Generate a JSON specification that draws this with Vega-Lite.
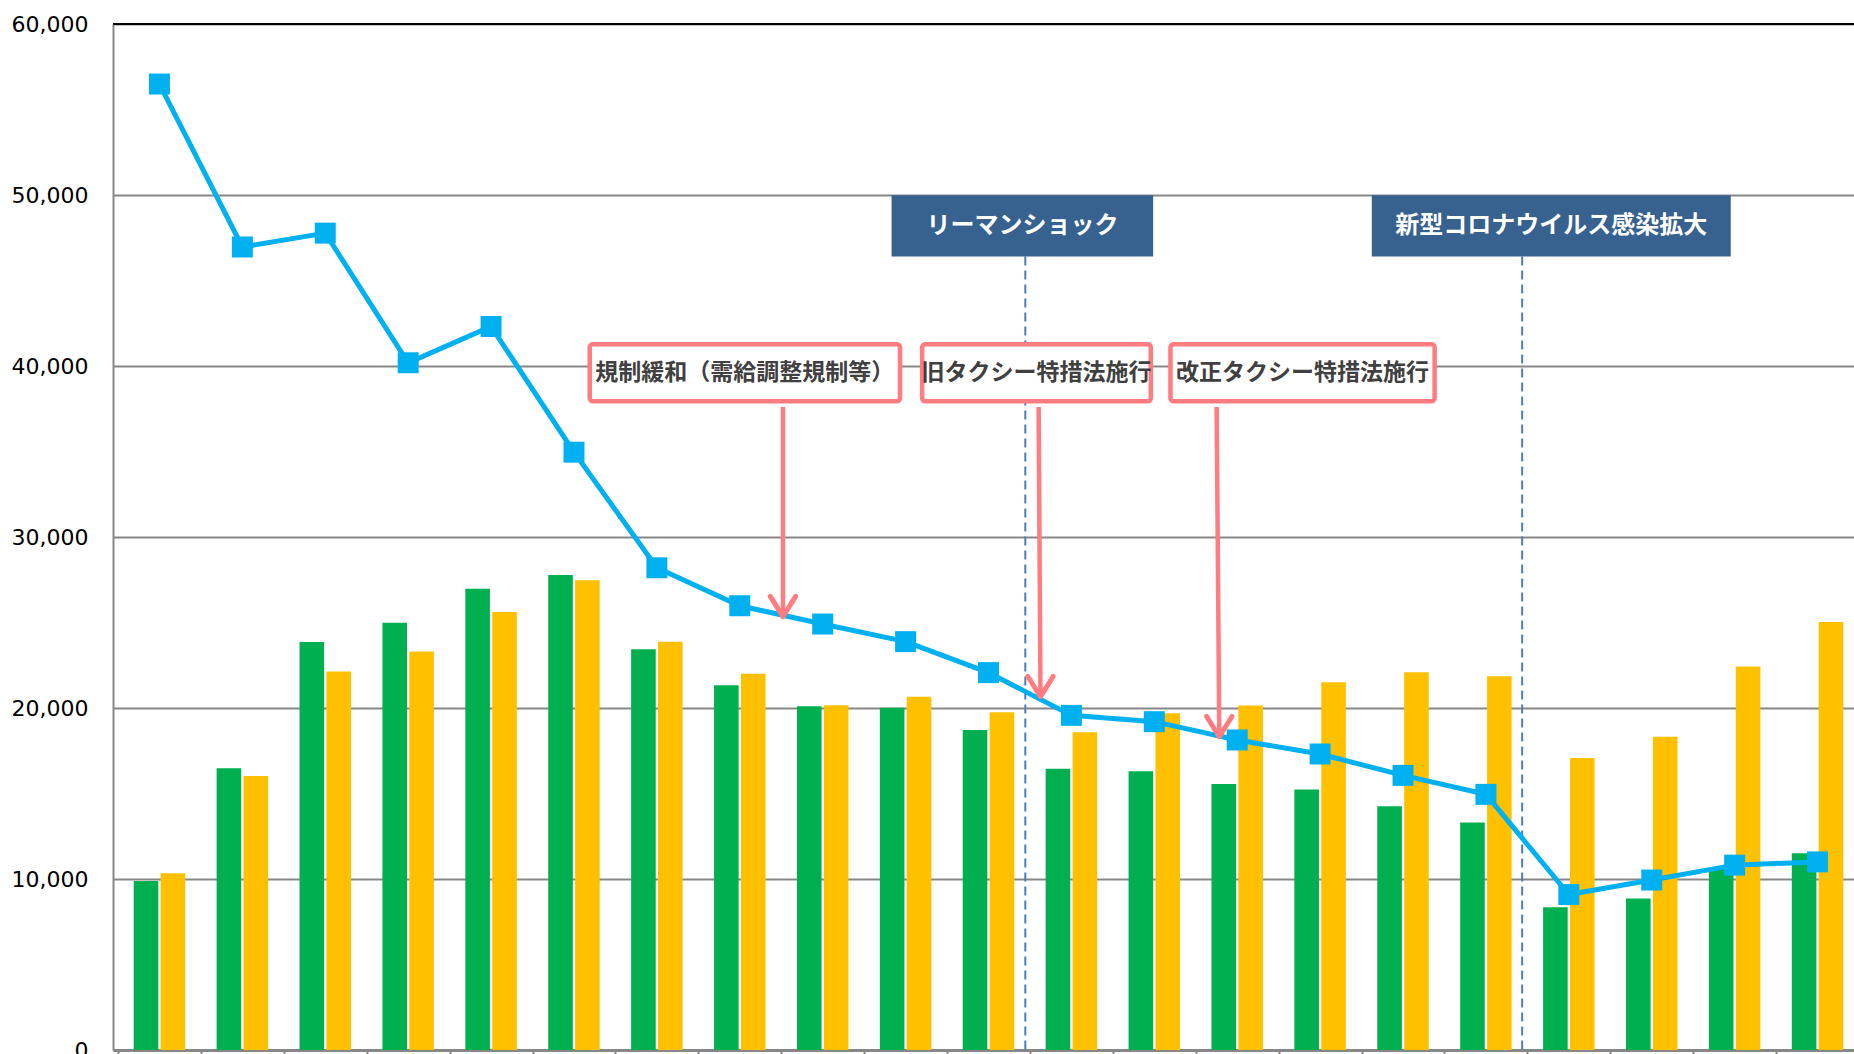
{
  "$schema": "https://vega.github.io/schema/vega-lite/v6.json",
  "width": 1741,
  "height": 1026,
  "autosize": {"type": "none"},
  "padding": {"left": 113, "top": 24, "right": 0, "bottom": 4},
  "background": "#ffffff",
  "config": {"view": {"stroke": null}, "font": "DejaVu Sans"},
  "datasets": {
    "bars": [
      {"period": 1, "series": "系列1", "value": 9880}, {"period": 1, "series": "系列2", "value": 10330},
      {"period": 2, "series": "系列1", "value": 16470}, {"period": 2, "series": "系列2", "value": 16020},
      {"period": 3, "series": "系列1", "value": 23860}, {"period": 3, "series": "系列2", "value": 22140},
      {"period": 4, "series": "系列1", "value": 24990}, {"period": 4, "series": "系列2", "value": 23300},
      {"period": 5, "series": "系列1", "value": 26980}, {"period": 5, "series": "系列2", "value": 25610},
      {"period": 6, "series": "系列1", "value": 27780}, {"period": 6, "series": "系列2", "value": 27470},
      {"period": 7, "series": "系列1", "value": 23430}, {"period": 7, "series": "系列2", "value": 23880},
      {"period": 8, "series": "系列1", "value": 21330}, {"period": 8, "series": "系列2", "value": 22010},
      {"period": 9, "series": "系列1", "value": 20100}, {"period": 9, "series": "系列2", "value": 20160},
      {"period": 10, "series": "系列1", "value": 20020}, {"period": 10, "series": "系列2", "value": 20660},
      {"period": 11, "series": "系列1", "value": 18710}, {"period": 11, "series": "系列2", "value": 19750},
      {"period": 12, "series": "系列1", "value": 16450}, {"period": 12, "series": "系列2", "value": 18580},
      {"period": 13, "series": "系列1", "value": 16300}, {"period": 13, "series": "系列2", "value": 19690},
      {"period": 14, "series": "系列1", "value": 15560}, {"period": 14, "series": "系列2", "value": 20140},
      {"period": 15, "series": "系列1", "value": 15230}, {"period": 15, "series": "系列2", "value": 21500},
      {"period": 16, "series": "系列1", "value": 14250}, {"period": 16, "series": "系列2", "value": 22090},
      {"period": 17, "series": "系列1", "value": 13310}, {"period": 17, "series": "系列2", "value": 21850},
      {"period": 18, "series": "系列1", "value": 8350}, {"period": 18, "series": "系列2", "value": 17070},
      {"period": 19, "series": "系列1", "value": 8860}, {"period": 19, "series": "系列2", "value": 18320},
      {"period": 20, "series": "系列1", "value": 10600}, {"period": 20, "series": "系列2", "value": 22420},
      {"period": 21, "series": "系列1", "value": 11500}, {"period": 21, "series": "系列2", "value": 25030}
    ],
    "line": [
      {"period": 1, "value": 56490}, {"period": 2, "value": 46960}, {"period": 3, "value": 47770},
      {"period": 4, "value": 40190}, {"period": 5, "value": 42310}, {"period": 6, "value": 34960},
      {"period": 7, "value": 28200}, {"period": 8, "value": 25980}, {"period": 9, "value": 24910},
      {"period": 10, "value": 23880}, {"period": 11, "value": 22070}, {"period": 12, "value": 19570},
      {"period": 13, "value": 19200}, {"period": 14, "value": 18130}, {"period": 15, "value": 17310},
      {"period": 16, "value": 16060}, {"period": 17, "value": 14950}, {"period": 18, "value": 9090},
      {"period": 19, "value": 9940}, {"period": 20, "value": 10810}, {"period": 21, "value": 11000}
    ],
    "events": [
      {"label": "リーマンショック", "at": 11.444, "x0": 9.831, "x1": 12.986, "xm": 11.409},
      {"label": "新型コロナウイルス感染拡大", "at": 17.437, "x0": 15.623, "x1": 19.953, "xm": 17.788}
    ],
    "policies": [
      {"label": "規制緩和（需給調整規制等）", "x0": 6.190, "x1": 9.933, "xm": 8.061, "ax0": 8.521, "ax1": 8.521, "tip": 25340},
      {"label": "旧タクシー特措法施行", "x0": 10.200, "x1": 12.958, "xm": 11.579, "ax0": 11.605, "ax1": 11.627, "tip": 20660},
      {"label": "改正タクシー特措法施行", "x0": 13.195, "x1": 16.381, "xm": 14.788, "ax0": 13.752, "ax1": 13.784, "tip": 18320}
    ]
  },
  "layer": [
    {
      "data": {"name": "events"},
      "mark": {"type": "rule", "color": "#4A7EBB", "strokeWidth": 2, "strokeDash": [9, 5]},
      "encoding": {
        "x": {
          "field": "at", "type": "quantitative",
          "scale": {"domain": [0.5, 21.5], "range": [0, 1751], "nice": false, "zero": false},
          "axis": {
            "title": null, "labels": false, "ticks": true, "tickSize": 6, "tickWidth": 2, "tickColor": "#878787",
            "values": [0.5, 1.5, 2.5, 3.5, 4.5, 5.5, 6.5, 7.5, 8.5, 9.5, 10.5, 11.5, 12.5, 13.5, 14.5, 15.5, 16.5, 17.5, 18.5, 19.5, 20.5, 21.5],
            "domainColor": "#878787", "domainWidth": 3, "grid": false
          }
        },
        "y": {
          "datum": 46400, "type": "quantitative",
          "scale": {"domain": [0, 60000], "nice": false, "zero": true},
          "axis": {
            "title": null, "values": [0, 10000, 20000, 30000, 40000, 50000, 60000], "format": ",d",
            "labelFont": "DejaVu Sans", "labelFontSize": 22, "labelColor": "#000000", "labelPadding": 25,
            "ticks": false, "domainColor": "#878787", "domainWidth": 2,
            "grid": true, "gridWidth": 2, "gridColor": "#878787"
          }
        },
        "y2": {"datum": 0}
      }
    },
    {
      "data": {"name": "bars"},
      "transform": [{"filter": "datum.series === '系列1'"}],
      "mark": {"type": "bar", "width": 24.6, "xOffset": -13.45},
      "encoding": {
        "x": {"field": "period", "type": "quantitative"},
        "y": {"field": "value", "type": "quantitative"},
        "color": {"field": "series", "type": "nominal", "scale": {"domain": ["系列1", "系列2"], "range": ["#00B050", "#FFC000"]}, "legend": null}
      }
    },
    {
      "data": {"name": "bars"},
      "transform": [{"filter": "datum.series === '系列2'"}],
      "mark": {"type": "bar", "width": 24.6, "xOffset": 13.45},
      "encoding": {
        "x": {"field": "period", "type": "quantitative"},
        "y": {"field": "value", "type": "quantitative"},
        "color": {"field": "series", "type": "nominal"}
      }
    },
    {
      "data": {"name": "line"},
      "mark": {"type": "line", "color": "#00B0F0", "strokeWidth": 5, "point": {"shape": "square", "size": 440, "filled": true, "color": "#00B0F0", "opacity": 1}},
      "encoding": {
        "x": {"field": "period", "type": "quantitative"},
        "y": {"field": "value", "type": "quantitative"}
      }
    },
    {
      "data": {"values": [{"top": 60000}]},
      "mark": {"type": "rule", "color": "#000000", "strokeWidth": 2},
      "encoding": {
        "y": {"field": "top", "type": "quantitative"}
      }
    },
    {
      "data": {"name": "events"},
      "mark": {"type": "rect", "fill": "#37618F"},
      "encoding": {
        "x": {"field": "x0", "type": "quantitative"},
        "x2": {"field": "x1"},
        "y": {"datum": 46400, "type": "quantitative"},
        "y2": {"datum": 49990}
      }
    },
    {
      "data": {"name": "events"},
      "mark": {"type": "text", "font": "Noto Sans CJK JP", "fontWeight": "bold", "fontSize": 24, "color": "#FFFFFF", "align": "center", "baseline": "middle"},
      "encoding": {
        "x": {"field": "xm", "type": "quantitative"},
        "y": {"datum": 48190, "type": "quantitative"},
        "text": {"field": "label", "type": "nominal"}
      }
    },
    {
      "data": {"name": "policies"},
      "mark": {"type": "rect", "fill": "#FFFFFF", "stroke": "#FF7C80", "strokeWidth": 4.5, "cornerRadius": 3},
      "encoding": {
        "x": {"field": "x0", "type": "quantitative"},
        "x2": {"field": "x1"},
        "y": {"datum": 37936, "type": "quantitative"},
        "y2": {"datum": 41269}
      }
    },
    {
      "data": {"name": "policies"},
      "mark": {"type": "text", "font": "Noto Sans CJK JP", "fontWeight": "bold", "fontSize": 23, "color": "#404040", "align": "center", "baseline": "middle"},
      "encoding": {
        "x": {"field": "xm", "type": "quantitative"},
        "y": {"datum": 39600, "type": "quantitative"},
        "text": {"field": "label", "type": "nominal"}
      }
    },
    {
      "data": {"name": "policies"},
      "mark": {"type": "rule", "color": "#FF7C80", "strokeWidth": 4.5},
      "encoding": {
        "x": {"field": "ax1", "type": "quantitative"},
        "x2": {"field": "ax0"},
        "y": {"field": "tip", "type": "quantitative"},
        "y2": {"datum": 37600}
      }
    },
    {
      "data": {"name": "policies"},
      "mark": {"type": "point", "shape": "M-1,-1.6L0,0L1,-1.6", "size": 640, "filled": false, "stroke": "#FF7C80", "strokeWidth": 5, "strokeCap": "round", "strokeJoin": "round", "opacity": 1},
      "encoding": {
        "x": {"field": "ax1", "type": "quantitative"},
        "y": {"field": "tip", "type": "quantitative"}
      }
    }
  ]
}
